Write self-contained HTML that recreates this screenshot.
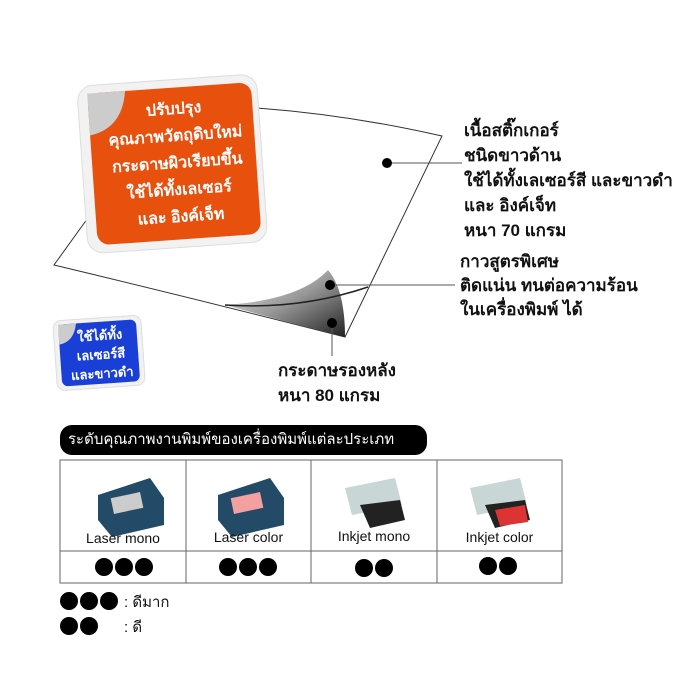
<!DOCTYPE html>
<html><head><meta charset="utf-8"><style>
body{margin:0;width:700px;height:700px;background:#fff;position:relative;overflow:hidden;font-family:"Liberation Sans","Noto Sans CJK SC",sans-serif;}
.t{position:absolute;font-weight:bold;color:#111;font-size:17px;line-height:25px;white-space:nowrap;font-family:"Liberation Sans","Noto Sans CJK SC",sans-serif;}
.cell{position:absolute;text-align:center;font-size:14px;color:#111;}
.dots{position:absolute;display:flex;gap:2px;}
.dots i{display:block;width:18px;height:18px;border-radius:50%;background:#000;}
</style></head><body>
<svg width="700" height="700" style="position:absolute;left:0;top:0">
<defs><linearGradient id="cg" x1="0" y1="0" x2="1" y2="1"><stop offset="0" stop-color="#eee"/><stop offset="0.5" stop-color="#999"/><stop offset="1" stop-color="#222"/></linearGradient></defs>
<path d="M257,108 Q350,115 442,136 L345,337 Q200,300 54,265 L90,215" fill="none" stroke="#333" stroke-width="1"/>
<path d="M225,305 Q300,300 328,270 Q345,290 345,337 Q280,320 225,305Z" fill="url(#cg)"/>
<path d="M225,305 Q300,310 368,287" fill="none" stroke="#222" stroke-width="1.5"/>
<line x1="387" y1="163" x2="462" y2="163" stroke="#555"/>
<line x1="330" y1="285" x2="455" y2="285" stroke="#555"/>
<line x1="332" y1="323" x2="332" y2="356" stroke="#555"/>
<circle cx="387" cy="163" r="5" fill="#000"/>
<circle cx="330" cy="285" r="5" fill="#000"/>
<circle cx="332" cy="323" r="5" fill="#000"/>
<g transform="rotate(-4 170 160)">
<rect x="82" y="80" width="180" height="168" rx="16" fill="#f2f2f2" stroke="#ddd"/>
<rect x="92" y="88" width="164" height="152" rx="12" fill="#e8500e"/>
<path d="M92,88 L130,88 Q125,125 92,130Z" fill="#ccc"/>
</g>
<g transform="rotate(-4 98 352)">
<rect x="55" y="318" width="88" height="70" rx="8" fill="#f2f2f2" stroke="#ddd"/>
<rect x="60" y="322" width="78" height="62" rx="6" fill="#1a3fd6"/>
<path d="M60,322 L78,322 Q75,340 60,342Z" fill="#ccc"/>
</g>
<rect x="60" y="425" width="367" height="30" rx="12" fill="#000"/>
<rect x="60" y="460" width="502" height="123" fill="none" stroke="#666"/>
<line x1="60" y1="551" x2="562" y2="551" stroke="#666"/>
<line x1="186" y1="460" x2="186" y2="583" stroke="#666"/>
<line x1="311" y1="460" x2="311" y2="583" stroke="#666"/>
<line x1="437" y1="460" x2="437" y2="583" stroke="#666"/>
<g fill="#234a66"><path d="M98,495 L150,478 L164,498 L164,525 L112,537 L98,520Z"/><path d="M218,495 L270,478 L284,498 L284,525 L232,537 L218,520Z"/></g>
<rect x="112" y="495" width="30" height="16" fill="#ccc" transform="rotate(-12 127 503)"/>
<rect x="232" y="495" width="30" height="16" fill="#f4a0a0" transform="rotate(-12 247 503)"/>
<g fill="#c9d6d6"><path d="M345,488 L395,478 L402,505 L352,515Z"/><path d="M470,488 L520,478 L527,505 L477,515Z"/></g>
<g fill="#222"><path d="M360,505 L400,500 L405,520 L370,528Z"/><path d="M485,505 L525,500 L530,520 L495,528Z"/></g>
<path d="M495,510 L525,505 L528,522 L500,526Z" fill="#d33"/>
</svg>
<div class="t" style="left:92px;top:90px;width:172px;text-align:center;color:#fff;font-size:16px;line-height:27px;transform:rotate(-4deg);transform-origin:170px 80px">ปรับปรุง<br>คุณภาพวัตถุดิบใหม่<br>กระดาษผิวเรียบขึ้น<br>ใช้ได้ทั้งเลเซอร์<br>และ อิงค์เจ็ท</div>
<div class="t" style="left:60px;top:326px;width:82px;text-align:center;color:#fff;font-size:13px;line-height:19px;transform:rotate(-4deg)">ใช้ได้ทั้ง<br>เลเซอร์สี<br>และขาวดำ</div>
<div class="t" style="left:464px;top:118px">เนื้อสติ๊กเกอร์<br>ชนิดขาวด้าน<br>ใช้ได้ทั้งเลเซอร์สี และขาวดำ<br>และ อิงค์เจ็ท<br>หนา 70 แกรม</div>
<div class="t" style="left:460px;top:250px;line-height:24px">กาวสูตรพิเศษ<br>ติดแน่น ทนต่อความร้อน<br>ในเครื่องพิมพ์ ได้</div>
<div class="t" style="left:278px;top:358px">กระดาษรองหลัง<br>หนา 80 แกรม</div>
<div class="t" style="left:68px;top:428px;color:#fff;font-weight:normal;font-size:15px;line-height:24px">ระดับคุณภาพงานพิมพ์ของเครื่องพิมพ์แต่ละประเภท</div>
<div class="cell" style="left:60px;top:530px;width:126px">Laser mono</div>
<div class="cell" style="left:186px;top:529px;width:125px">Laser color</div>
<div class="cell" style="left:311px;top:528px;width:126px">Inkjet mono</div>
<div class="cell" style="left:437px;top:529px;width:125px">Inkjet color</div>
<div class="dots" style="left:95px;top:558px"><i></i><i></i><i></i></div>
<div class="dots" style="left:219px;top:558px"><i></i><i></i><i></i></div>
<div class="dots" style="left:355px;top:559px"><i></i><i></i></div>
<div class="dots" style="left:479px;top:557px"><i></i><i></i></div>
<div class="dots" style="left:60px;top:592px"><i></i><i></i><i></i></div>
<div class="dots" style="left:60px;top:617px"><i></i><i></i></div>
<div class="t" style="left:124px;top:590px;font-size:15px;font-weight:normal">: ดีมาก</div>
<div class="t" style="left:124px;top:615px;font-size:15px;font-weight:normal">: ดี</div>
</body></html>
